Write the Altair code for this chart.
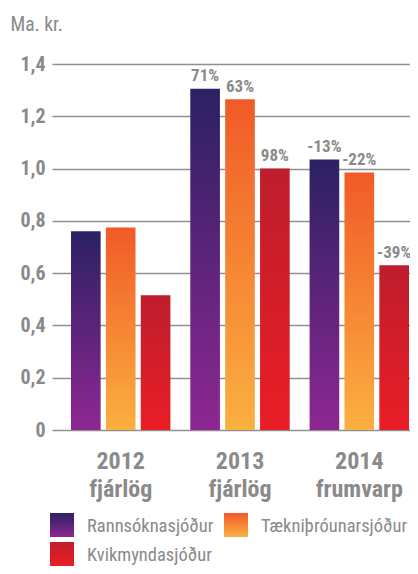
import altair as alt
import pandas as pd

groups = ["2012\nfjárlög", "2013\nfjárlög", "2014\nfrumvarp"]
series = ["Rannsóknasjóður", "Tækniþróunarsjóður", "Kvikmyndasjóður"]
rann_values = [0.76, 1.305, 1.035]
taekni_values = [0.775, 1.265, 0.985]
kvik_values = [0.515, 1.0, 0.63]
rann_labels = ["", "71%", "-13%"]
taekni_labels = ["", "63%", "-22%"]
kvik_labels = ["", "98%", "-39%"]
y_ticks = [0, 0.2, 0.4, 0.6, 0.8, 1.0, 1.2, 1.4]

top_colors = ["#2b2163", "#f15a28", "#be1e2d"]
bottom_colors = ["#8e2792", "#fbb040", "#ea1d25"]

rows = []
for vals, labs, s in [(rann_values, rann_labels, series[0]),
                      (taekni_values, taekni_labels, series[1]),
                      (kvik_values, kvik_labels, series[2])]:
    for g, v, l in zip(groups, vals, labs):
        rows.append({"group": g, "series": s, "value": v, "label": l})
df = pd.DataFrame(rows)
legend_df = pd.DataFrame({"series": series})

FONT = "Roboto Condensed, Liberation Sans Narrow, DejaVu Sans Condensed, sans-serif"
GRAY = "#8a8a8a"


def grad(i):
    return alt.Gradient(
        gradient="linear", x1=0, y1=0, x2=0, y2=1,
        stops=[alt.GradientStop(offset=0, color=top_colors[i]),
               alt.GradientStop(offset=1, color=bottom_colors[i])],
    )


x_enc = alt.X(
    "group:N", sort=groups,
    scale=alt.Scale(paddingInner=1 / 6, paddingOuter=0.0838, align=0.95),
    axis=alt.Axis(
        title=None, labelAngle=0, labelExpr="split(datum.label, '\\n')",
        labelFont=FONT, labelFontSize=24, labelFontWeight="bold",
        labelColor=GRAY, labelLineHeight=28.5, labelPadding=19,
        ticks=False, domain=False, grid=False,
    ),
)
xo_enc = alt.XOffset(
    "series:N", sort=series,
    scale=alt.Scale(domain=series, paddingInner=0.15, paddingOuter=0),
)
y_enc = alt.Y(
    "value:Q",
    scale=alt.Scale(domain=[0, 1.4], nice=False),
    axis=alt.Axis(
        values=y_ticks,
        labelExpr="datum.value == 0 ? '0' : replace(format(datum.value, '.1f'), '.', ',')",
        labelFont=FONT, labelFontSize=20, labelFontWeight="bold",
        labelColor=GRAY, labelPadding=7,
        grid=True, gridColor="#8f8f8f", gridWidth=1.6,
        domain=False, ticks=False,
        title="Ma. kr.", titleAngle=0, titleX=-42, titleY=-34,
        titleAlign="left", titleBaseline="alphabetic",
        titleFont=FONT, titleFontSize=19.5, titleFontWeight="normal",
        titleColor=GRAY,
    ),
)

bar_layers = []
for i, s in enumerate(series):
    bar_layers.append(
        alt.Chart(df).transform_filter(alt.datum.series == s)
        .mark_bar(color=grad(i))
        .encode(x=x_enc, xOffset=xo_enc, y=y_enc)
    )

text_layer = alt.Chart(df).mark_text(
    baseline="alphabetic", dy=-7.5, font=FONT, fontSize=17,
    fontWeight="bold", color=GRAY,
).encode(x=x_enc, xOffset=xo_enc, y=y_enc, text="label:N")

main = alt.layer(*bar_layers, text_layer)

# legend built from the series list (two columns)
lx = alt.X("col:O", scale=alt.Scale(type="point", domain=[0, 1], range=[10, 184], padding=0), axis=None)
ly = alt.Y("row:O", scale=alt.Scale(type="point", domain=[0, 1], range=[461, 490], padding=0), axis=None)

leg_base = alt.Chart(legend_df).transform_window(
    idx="row_number()"
).transform_calculate(
    col="(datum.idx - 1) % 2", row="floor((datum.idx - 1) / 2)"
)

leg_symbols = []
for i, s in enumerate(series):
    leg_symbols.append(
        leg_base.transform_filter(alt.datum.series == s)
        .mark_square(size=576, color=grad(i), opacity=1)
        .encode(x=lx, y=ly)
    )

leg_text = leg_base.mark_text(
    align="left", baseline="middle", dx=25, dy=1, font=FONT,
    fontSize=18.5, color=GRAY,
).encode(x=lx, y=ly, text="series:N")

legend = alt.layer(*leg_symbols, leg_text)

chart = alt.layer(main, legend).resolve_scale(
    x="independent", y="independent"
).properties(
    width=358, height=366,
    autosize=alt.AutoSizeParams(type="none"),
    padding={"left": 44, "top": 56, "right": 0, "bottom": 136},
).configure_view(stroke=None)

chart.save("out.html", embed_options={"renderer": "svg", "actions": False})
